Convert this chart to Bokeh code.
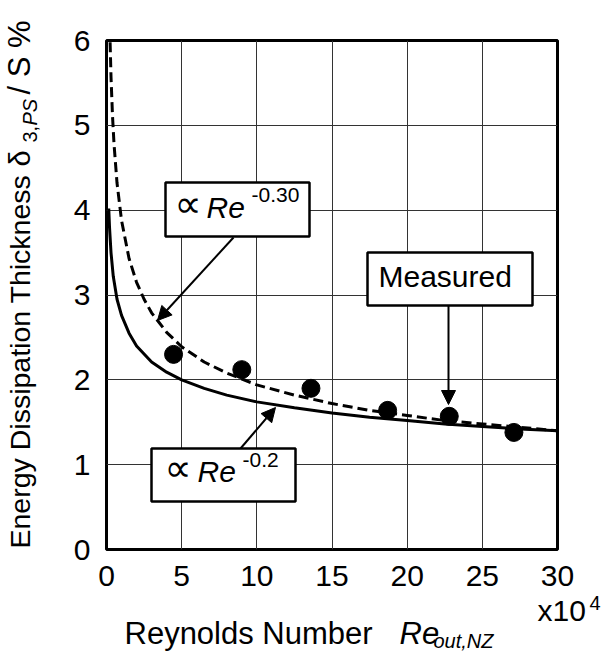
import math
from bokeh.plotting import figure
from bokeh.models import Range1d, BoxAnnotation, Arrow, NormalHead
from bokeh.core.properties import value
from bokeh.embed import file_html
from bokeh.resources import INLINE

# ---- data ----
x_ticks = [0, 5, 10, 15, 20, 25, 30]
y_ticks = [0, 1, 2, 3, 4, 5, 6]

re_measured = [4.46, 9.0, 13.6, 18.7, 22.8, 27.1]
delta_measured = [2.30, 2.12, 1.90, 1.64, 1.57, 1.38]

re_fit02 = [0.15, 0.2, 0.3, 0.45, 0.7, 1.0, 1.5, 2.0, 3.0, 4.0, 5.0, 6.5, 8.0,
            10.0, 12.5, 15.0, 17.5, 20.0, 22.5, 25.0, 27.5, 30.0]
delta_fit02 = [4.02, 3.80, 3.50, 3.22, 2.95, 2.76, 2.55, 2.40, 2.21, 2.09, 2.00,
               1.90, 1.82, 1.74, 1.67, 1.61, 1.56, 1.52, 1.48, 1.45, 1.42, 1.40]

re_fit03 = [0.24, 0.3, 0.4, 0.5, 0.7, 1.0, 1.5, 2.0, 2.5, 3.0, 4.0, 5.0, 6.5, 8.0,
            10.0, 12.5, 15.0, 17.5, 20.0, 22.5, 25.0, 27.5, 30.0]
delta_fit03 = [5.98, 5.57, 5.11, 4.78, 4.32, 3.88, 3.43, 3.15, 2.95, 2.79, 2.56,
               2.39, 2.21, 2.08, 1.94, 1.82, 1.72, 1.64, 1.58, 1.52, 1.48, 1.44, 1.40]

# ---- layout (pixels of the frame) ----
FL, FR, FT, FB = 106, 557, 40, 549
W, H = 601, 654


def dx(px):
    return (px - FL) * 30.0 / (FR - FL)


def dy(py):
    return (FB - py) * 6.0 / (FB - FT)


FONT = "Liberation Sans"
K = 0.4  # measured drift of rendered baseline, as a fraction of font size

p = figure(width=W, height=H, x_range=Range1d(0, 30), y_range=Range1d(0, 6),
           output_backend="svg", toolbar_location=None,
           min_border_left=FL, min_border_right=W - FR,
           min_border_top=FT, min_border_bottom=H - FB)
p.background_fill_color = "white"
p.border_fill_color = "white"
p.outline_line_color = "black"
p.outline_line_width = 3

for ax in (p.xaxis, p.yaxis):
    ax.axis_line_color = None
    ax.major_tick_line_color = None
    ax.minor_tick_line_color = None
    ax.major_label_text_font = FONT
    ax.major_label_text_font_size = "30px"
    ax.major_label_text_color = "black"
p.xaxis.ticker = x_ticks
p.yaxis.ticker = y_ticks
p.xaxis.major_label_standoff = 10
p.yaxis.major_label_standoff = 10

p.grid.grid_line_color = "#333333"
p.grid.grid_line_width = 1
p.xgrid.ticker = x_ticks
p.ygrid.ticker = y_ticks

# curves and points
p.line(re_fit02, delta_fit02, line_color="black", line_width=3)
p.line(re_fit03, delta_fit03, line_color="black", line_width=3, line_dash="10 5")
p.scatter(re_measured, delta_measured, size=18, marker="circle",
          fill_color="black", line_color="black")


def label(px, py, text, size, style="normal", font=FONT, rotated=False):
    s = float(size.replace("px", ""))
    if rotated:
        px, angle = px - K * s, math.pi / 2
    else:
        py, angle = py - K * s, 0.0
    p.text(x=[dx(px)], y=[dy(py)], text=[text], text_font=value(font),
           text_font_size=value(size), text_font_style=style,
           text_color="black", text_align="left", text_baseline="alphabetic",
           angle=angle, level="overlay")


def box(l, r, t, b):
    p.add_layout(BoxAnnotation(left=dx(l), right=dx(r), top=dy(t), bottom=dy(b),
                               fill_color="white", fill_alpha=1.0,
                               line_color="black", line_alpha=1.0, line_width=2.5))


def arrow(x0, y0, x1, y1):
    p.add_layout(Arrow(x_start=dx(x0), y_start=dy(y0), x_end=dx(x1), y_end=dy(y1),
                       line_color="black", line_width=2,
                       end=NormalHead(size=14, fill_color="black",
                                      line_color="black", line_width=1)))


# annotation: Re^-0.30
arrow(233, 237, 157, 320)
box(165, 309, 182, 236)
label(174, 219, "\u221d", "38px", font="DejaVu Sans")
label(206, 219, "Re", "30px", style="italic")
label(251, 203, "-0.30", "21px")

# annotation: Re^-0.2
arrow(240, 448, 275, 407)
box(151, 295, 448, 501)
label(164, 483, "\u221d", "38px", font="DejaVu Sans")
label(197, 483, "Re", "30px", style="italic")
label(242, 468, "-0.2", "21px")

# annotation: Measured
arrow(448, 305, 448, 404)
box(367, 532, 252, 305)
label(378, 288, "Measured", "30px")

# x axis title
label(124, 645, "Reynolds Number", "31px")
label(399, 645, "Re", "31px", style="italic")
label(433, 648, "out,NZ", "20px", style="italic")
label(537, 622, "x10", "30px")
label(589, 610, "4", "20px")

# y axis title (rotated)
label(31, 548, "Energy Dissipation Thickness", "28.5px", rotated=True)
label(31, 166, "\u03b4", "29px", rotated=True)
label(37, 142, "3,", "20px", rotated=True)
label(37, 125, "PS", "20px", style="italic", rotated=True)
label(31, 94, "/ S %", "31px", rotated=True)

open("out.html", "w").write(file_html(p, INLINE))
